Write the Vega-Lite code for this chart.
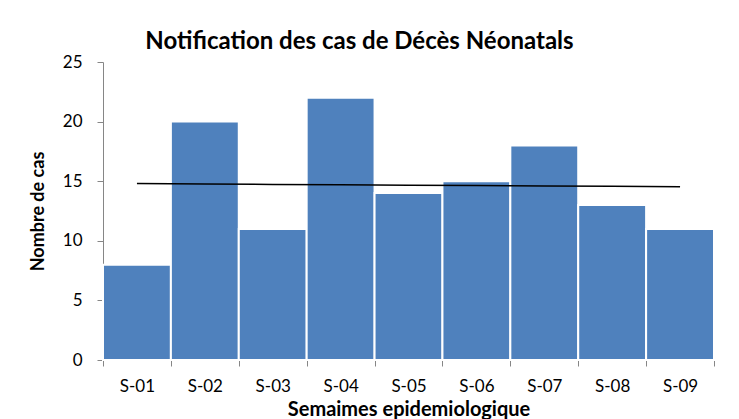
{
  "$schema": "https://vega.github.io/schema/vega-lite/v6.json",
  "autosize": {"type": "none"},
  "width": 611,
  "height": 298,
  "padding": {"left": 103, "top": 62, "right": 25, "bottom": 59},
  "background": "white",
  "config": {
    "font": "Lato",
    "view": {"stroke": null},
    "axis": {"grid": false, "zindex": 1, "domainColor": "#868686", "tickColor": "#868686", "labelColor": "#000000", "titleColor": "#000000", "labelFont": "Lato", "titleFont": "Lato"}
  },
  "title": {
    "text": "Notification des cas de Décès Néonatals",
    "fontSize": 24,
    "fontWeight": "bold",
    "font": "Lato",
    "color": "#000000",
    "offset": -1,
    "dx": -49
  },
  "data": {
    "values": [
      {"semaine": "S-01", "cas": 8, "tendance": 14.8},
      {"semaine": "S-02", "cas": 20, "tendance": 14.77},
      {"semaine": "S-03", "cas": 11, "tendance": 14.73},
      {"semaine": "S-04", "cas": 22, "tendance": 14.7},
      {"semaine": "S-05", "cas": 14, "tendance": 14.67},
      {"semaine": "S-06", "cas": 15, "tendance": 14.63},
      {"semaine": "S-07", "cas": 18, "tendance": 14.6},
      {"semaine": "S-08", "cas": 13, "tendance": 14.57},
      {"semaine": "S-09", "cas": 11, "tendance": 14.53}
    ]
  },
  "encoding": {
    "x": {
      "field": "semaine",
      "type": "ordinal",
      "scale": {"paddingInner": 0, "paddingOuter": 0},
      "axis": {
        "title": "Semaimes epidemiologique",
        "titleFontSize": 20,
        "titleFontWeight": "bold",
        "titlePadding": 5,
        "labelAngle": 0,
        "labelFontSize": 17,
        "labelPadding": 12,
        "tickBand": "extent",
        "tickSize": 6,
        "tickWidth": 1,
        "domainWidth": 1
      }
    }
  },
  "layer": [
    {
      "mark": {"type": "bar", "color": "#4F81BD", "stroke": "white", "strokeWidth": 2},
      "encoding": {
        "y": {
          "field": "cas",
          "type": "quantitative",
          "scale": {"domain": [0, 25], "nice": false},
          "axis": {
            "title": "Nombre de cas",
            "titleFontSize": 18,
            "titleFontWeight": "bold",
            "titlePadding": 15,
            "values": [0, 5, 10, 15, 20, 25],
            "labelFontSize": 17,
            "labelPadding": 15,
            "tickSize": 6,
            "tickWidth": 1,
            "domainWidth": 1
          }
        }
      }
    },
    {
      "mark": {"type": "line", "color": "black", "strokeWidth": 1.5},
      "encoding": {
        "y": {"field": "tendance", "type": "quantitative"}
      }
    }
  ]
}
